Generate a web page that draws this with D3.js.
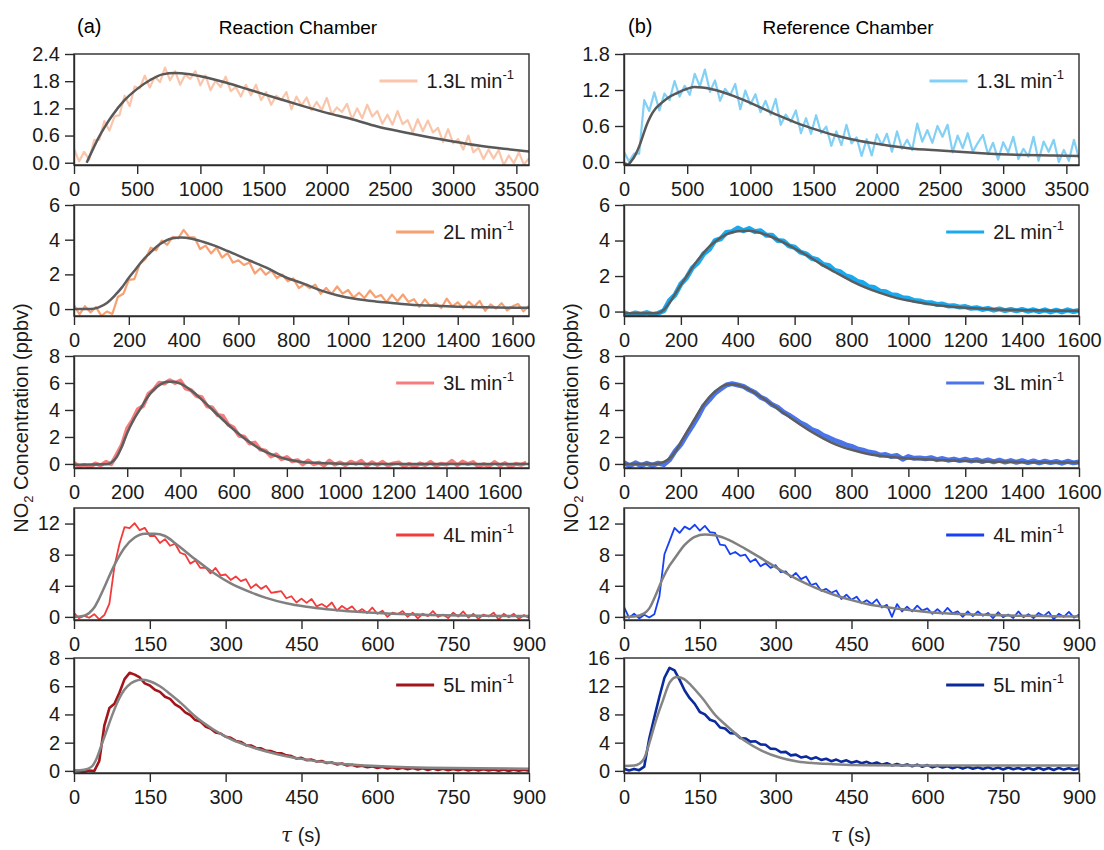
<!DOCTYPE html>
<html>
<head>
<meta charset="utf-8">
<script src="https://cdn.jsdelivr.net/npm/d3@7"></script>
<style>
  body { margin: 0; background: #fff; }
  svg { font-family: "Liberation Sans", Arial, sans-serif; }
  .axis text { font-size: 20px; fill: #1a1a1a; }
  .axis path, .axis line { stroke: #2b2b2b; stroke-width: 1.4; }
</style>
</head>
<body>
<svg width="1104" height="850"></svg>
<script>
var svg = d3.select('svg');

// flow rates (legend labels), one per row
var flowRates = ['1.3', '2', '3', '4', '5'];

// sampling step (s) of the measured traces, per row
var rcStep = [40, 20, 20, 10, 10];
var refStep = [40, 20, 20, 10, 10];

// x extent (tau, s) and ticks
var rcTauMax = [3600, 1660, 1710, 900, 900];
var refTauMax = [3600, 1600, 1600, 900, 900];
var xTicksLong = [0, 500, 1000, 1500, 2000, 2500, 3000, 3500];
var xTicksMid = [0, 200, 400, 600, 800, 1000, 1200, 1400, 1600];
var xTicksShort = [0, 150, 300, 450, 600, 750, 900];

// y extents and ticks
var rcYDomain = [[-0.05, 2.4], [-0.4, 6], [-0.3, 8], [-0.4, 14], [-0.15, 8]];
var refYDomain = [[-0.05, 1.8], [-0.25, 6], [-0.3, 8], [-0.4, 14], [-0.3, 16]];
var rcYTicks = [[0, 0.6, 1.2, 1.8, 2.4], [0, 2, 4, 6], [0, 2, 4, 6, 8], [0, 4, 8, 12], [0, 2, 4, 6, 8]];
var refYTicks = [[0, 0.6, 1.2, 1.8], [0, 2, 4, 6], [0, 2, 4, 6, 8], [0, 4, 8, 12], [0, 4, 8, 12, 16]];

// Reaction chamber, measured NO2 (ppbv)
var rc13 = [0.31,0.03,0.24,0.07,0.50,0.51,0.92,0.71,1.02,1.05,
  1.48,1.25,1.68,1.64,1.92,1.66,1.90,1.78,2.10,1.82,
  2.02,1.72,1.94,1.85,2.02,1.71,1.93,1.60,1.81,1.67,
  1.90,1.58,1.67,1.46,1.72,1.49,1.72,1.38,1.56,1.28,
  1.48,1.38,1.56,1.18,1.46,1.26,1.44,1.16,1.34,1.16,
  1.43,1.07,1.22,1.12,1.30,0.96,1.20,0.98,1.28,1.02,
  1.14,0.86,1.06,0.84,1.14,0.85,0.94,0.67,0.96,0.70,
  0.93,0.67,0.77,0.46,0.74,0.43,0.52,0.29,0.60,0.23,
  0.33,0.08,0.29,0.09,0.28,-0.05,0.16,-0.01,0.23,-0.04,
  0.10];
var rc2 = [0.22,-0.30,0.17,-0.19,0.11,-0.39,-0.14,-0.28,0.70,0.88,
  1.68,1.73,2.59,2.87,3.54,3.39,3.95,3.70,4.16,4.08,
  4.57,4.15,4.13,3.46,3.66,3.21,3.55,2.97,3.22,2.68,
  2.81,2.54,2.69,2.05,2.35,1.98,2.23,1.79,1.99,1.60,
  1.77,1.21,1.43,1.21,1.41,0.88,1.22,0.87,1.30,0.89,
  1.10,0.66,0.94,0.64,1.07,0.68,0.81,0.40,0.83,0.45,
  0.84,0.41,0.57,0.13,0.56,0.17,0.33,0.06,0.60,0.15,
  0.39,0.04,0.43,0.14,0.47,-0.10,0.27,0.03,0.34,-0.08,
  0.16,0.29,-0.13,0.19];
var rc3 = [0.08,-0.20,-0.08,-0.26,0.04,-0.11,0.15,-0.02,0.68,1.42,
  2.64,3.26,4.06,4.30,5.20,5.52,6.02,5.96,6.21,6.00,
  6.18,5.59,5.47,5.04,4.94,4.27,4.18,3.63,3.55,2.91,
  2.70,2.09,2.01,1.51,1.58,1.07,0.99,0.55,0.72,0.35,
  0.51,0.19,0.28,-0.03,0.26,-0.02,0.10,-0.11,0.25,-0.05,
  0.11,-0.09,0.17,0.01,0.23,-0.15,0.13,-0.08,0.16,-0.12,
  0.04,0.11,-0.17,0.01,-0.23,0.05,-0.09,0.15,-0.14,0.02,
  -0.05,0.23,-0.10,0.18,-0.01,0.14,-0.21,-0.01,-0.17,0.15,
  -0.13,0.07,-0.23,0.01,-0.07,0.11];
var rc4 = [0.52,-0.18,0.14,-0.11,0.35,-0.32,0.24,1.70,6.50,9.40,
  11.55,11.40,12.05,11.15,11.45,10.40,10.40,9.50,10.00,9.15,
  9.40,8.25,8.00,6.85,7.25,6.30,6.35,5.60,6.30,5.35,
  5.45,4.75,5.20,4.60,4.85,3.70,4.20,3.60,4.00,3.10,
  3.20,3.30,2.40,2.65,1.85,2.35,1.80,2.30,1.35,1.65,
  1.25,1.85,0.80,1.40,0.95,1.35,0.60,1.00,0.50,1.20,
  0.40,0.80,0.00,0.55,0.35,0.75,0.00,0.55,-0.20,0.40,
  0.10,0.75,0.00,0.30,-0.15,0.55,0.05,0.70,-0.10,0.40,
  -0.25,0.30,0.05,0.55,-0.35,0.40,-0.05,0.40,-0.25,0.25,
  -0.15];
var rc5 = [0.05,-0.03,-0.08,0.02,-0.02,0.7,3.2,4.45,4.75,5.55,
  6.5,6.95,6.82,6.62,6.2,6.05,5.75,5.6,5.25,5.1,
  4.72,4.5,4.15,3.95,3.6,3.5,3.15,3.0,2.72,2.65,
  2.42,2.35,2.12,2.05,1.82,1.8,1.62,1.6,1.42,1.4,
  1.27,1.25,1.1,1.05,0.88,0.92,0.76,0.8,0.66,0.7,
  0.56,0.6,0.46,0.52,0.38,0.44,0.31,0.37,0.26,0.32,
  0.2,0.29,0.17,0.25,0.14,0.23,0.12,0.2,0.1,0.19,
  0.06,0.17,0.07,0.15,0.04,0.14,0.05,0.13,0.03,0.12,
  0.02,0.11,0.03,0.1,0.01,0.1,0.0,0.09,0.01,0.08,
  0.02];

// Reference chamber, measured NO2 (ppbv)
var ref13 = [0.17,0.01,0.14,0.14,1.03,0.85,1.16,0.86,1.14,1.03,
  1.35,1.09,1.27,1.12,1.47,1.26,1.54,1.17,1.36,1.02,
  1.22,1.11,1.30,0.88,1.19,0.96,1.13,0.83,1.02,0.79,
  1.05,0.62,0.79,0.67,0.86,0.48,0.73,0.47,0.78,0.48,
  0.59,0.27,0.51,0.28,0.62,0.31,0.41,0.10,0.38,0.11,
  0.46,0.28,0.47,0.17,0.51,0.22,0.37,0.20,0.64,0.34,
  0.53,0.32,0.60,0.42,0.62,0.16,0.44,0.23,0.48,0.17,
  0.32,0.45,0.13,0.32,0.04,0.33,0.16,0.42,0.05,0.22,
  0.09,0.42,0.02,0.34,0.17,0.37,0.00,0.20,0.02,0.37,
  0.06];
var ref2 = [-0.05,-0.18,-0.08,-0.15,-0.06,-0.16,-0.1,0.05,0.62,0.95,
  1.55,1.9,2.45,2.75,3.25,3.5,4.0,4.1,4.45,4.5,
  4.7,4.55,4.68,4.5,4.55,4.3,4.3,4.0,3.98,3.7,
  3.62,3.35,3.25,3.0,2.92,2.65,2.6,2.32,2.25,2.0,
  1.92,1.7,1.62,1.4,1.35,1.15,1.12,0.95,0.92,0.78,
  0.75,0.62,0.6,0.5,0.5,0.4,0.42,0.32,0.33,0.25,
  0.28,0.18,0.22,0.12,0.18,0.08,0.15,0.05,0.12,0.04,
  0.12,0.02,0.1,0.0,0.1,-0.02,0.08,-0.02,0.1,0.0,
  0.06];
var ref3 = [0.1,-0.15,0.08,-0.12,0.05,-0.1,0.06,-0.05,0.3,0.95,
  1.45,2.15,2.8,3.5,4.3,4.75,5.25,5.55,5.85,5.95,
  5.85,5.75,5.5,5.3,4.95,4.75,4.4,4.2,3.85,3.62,
  3.35,3.05,2.85,2.55,2.4,2.12,1.95,1.75,1.6,1.42,
  1.3,1.12,1.02,0.88,0.82,0.65,0.7,0.55,0.62,0.35,
  0.55,0.42,0.45,0.38,0.46,0.32,0.4,0.28,0.36,0.25,
  0.35,0.22,0.32,0.18,0.3,0.16,0.28,0.14,0.25,0.12,
  0.24,0.1,0.22,0.08,0.2,0.1,0.18,0.06,0.2,0.08,
  0.15];
var ref4 = [1.28,-0.11,0.40,-0.20,0.28,-0.07,0.35,2.65,8.05,9.75,
  11.45,10.80,11.60,11.25,11.85,11.10,11.70,10.90,10.80,9.30,
  9.20,8.05,8.35,7.85,8.00,7.05,7.45,6.50,6.90,6.30,
  6.65,5.75,5.85,5.10,5.65,4.85,5.20,4.10,4.30,3.35,
  3.60,3.10,3.40,2.30,2.85,2.20,2.60,1.75,2.15,1.65,
  2.25,1.20,1.55,0.00,1.65,0.70,1.30,0.70,1.45,0.80,
  1.10,0.40,1.00,0.40,1.15,0.45,0.70,0.00,0.70,0.10,
  0.70,0.15,0.50,-0.15,0.60,-0.05,0.30,-0.15,0.70,-0.05,
  0.35,-0.15,0.50,0.10,0.65,-0.30,0.40,0.00,0.65,-0.10,
  0.30];
var ref5 = [0.3,0.05,0.28,0.1,0.6,4.6,7.6,10.5,13.2,14.6,
  14.25,12.9,11.4,10.3,9.5,8.35,8.0,7.25,7.0,6.15,
  6.0,5.35,5.3,4.65,4.6,4.15,4.2,3.75,3.7,3.15,
  3.1,2.65,2.7,2.2,2.3,1.9,2.05,1.7,1.92,1.55,
  1.72,1.38,1.6,1.28,1.5,1.15,1.38,1.08,1.28,0.98,
  1.18,0.88,1.08,0.78,0.98,0.72,0.92,0.65,0.88,0.58,
  0.82,0.5,0.72,0.48,0.66,0.38,0.62,0.32,0.58,0.3,
  0.52,0.28,0.52,0.25,0.48,0.2,0.47,0.22,0.42,0.18,
  0.42,0.16,0.44,0.15,0.4,0.12,0.42,0.18,0.38,0.15,
  0.36];

// fitted curves [tau, NO2]
var rcFit13 = [[100,0],[150,0.3],[200,0.58],[250,0.82],[300,1.03],[400,1.38],[500,1.63],[600,1.82],[700,1.95],[800,1.98],[900,1.96],[1000,1.91],[1200,1.77],[1400,1.6],[1600,1.43],[1800,1.26],[2000,1.1],[2200,0.96],[2400,0.8],[2600,0.68],[2800,0.57],[3000,0.47],[3200,0.38],[3400,0.31],[3600,0.25]];
var rcFit2 = [[0,0],[60,0],[90,0.1],[120,0.35],[150,0.8],[175,1.25],[200,1.8],[225,2.3],[250,2.8],[275,3.2],[300,3.58],[330,3.9],[360,4.08],[390,4.12],[430,4.05],[470,3.88],[510,3.67],[560,3.35],[640,2.8],[700,2.4],[770,1.85],[840,1.45],[900,1.08],[960,0.8],[1030,0.58],[1100,0.44],[1160,0.35],[1230,0.25],[1300,0.2],[1400,0.14],[1500,0.1],[1600,0.08],[1660,0.07]];
var rcFit3 = [[0,-0.05],[120,-0.03],[140,0.1],[160,0.5],[180,1.3],[200,2.3],[225,3.3],[250,4.1],[275,4.9],[300,5.5],[325,5.9],[350,6.1],[375,6.1],[400,5.95],[450,5.3],[500,4.4],[550,3.45],[600,2.55],[650,1.75],[700,1.1],[750,0.65],[800,0.35],[850,0.17],[900,0.08],[1000,0.02],[1200,0],[1710,0]];
var rcFit4 = [[0,0],[20,0.15],[30,0.5],[40,1.2],[50,2.4],[60,3.8],[70,5.3],[85,7.3],[100,8.9],[120,10.2],[140,10.7],[160,10.7],[180,10.4],[205,9.2],[240,7.4],[275,5.7],[310,4.3],[350,3.15],[380,2.45],[420,1.75],[460,1.3],[500,0.98],[560,0.65],[630,0.4],[700,0.25],[800,0.14],[900,0.1]];
var rcFit5 = [[0,0.02],[20,0.08],[35,0.3],[45,0.9],[55,1.9],[65,2.9],[75,3.9],[85,4.8],[95,5.5],[106,6.0],[120,6.35],[134,6.45],[150,6.35],[170,6.0],[190,5.45],[215,4.7],[240,3.85],[275,2.95],[310,2.25],[350,1.7],[400,1.2],[450,0.85],[500,0.6],[560,0.42],[630,0.3],[700,0.23],[800,0.18],[900,0.15]];
var refFit13 = [[0,-0.02],[30,-0.04],[60,0.02],[90,0.12],[120,0.26],[150,0.44],[180,0.62],[210,0.76],[250,0.89],[300,0.99],[340,1.06],[420,1.15],[500,1.22],[560,1.25],[620,1.24],[680,1.22],[800,1.15],[950,1.03],[1100,0.89],[1240,0.76],[1380,0.64],[1520,0.54],[1660,0.45],[1800,0.38],[1950,0.32],[2100,0.27],[2250,0.23],[2500,0.19],[2800,0.15],[3100,0.12],[3400,0.11],[3600,0.1]];
var refFit2 = [[0,-0.1],[100,-0.1],[120,-0.08],[140,0.1],[160,0.5],[180,1.0],[200,1.5],[225,2.1],[250,2.7],[275,3.2],[300,3.65],[330,4.05],[360,4.35],[400,4.52],[440,4.55],[480,4.42],[520,4.2],[560,3.9],[600,3.55],[650,3.1],[700,2.6],[750,2.15],[800,1.72],[850,1.35],[900,1.05],[950,0.8],[1000,0.62],[1100,0.36],[1200,0.22],[1300,0.13],[1400,0.08],[1500,0.05],[1600,0.04]];
var refFit3 = [[0,0],[120,0.02],[140,0.15],[160,0.4],[180,0.9],[200,1.6],[225,2.5],[250,3.4],[275,4.25],[300,4.95],[325,5.45],[350,5.8],[375,5.9],[400,5.85],[450,5.4],[500,4.7],[550,3.95],[600,3.2],[650,2.5],[700,1.9],[750,1.4],[800,1.05],[850,0.78],[900,0.6],[1000,0.4],[1100,0.3],[1200,0.22],[1300,0.17],[1400,0.13],[1600,0.1]];
var refFit4 = [[0,0],[20,0.05],[40,0.45],[50,1.1],[63,2.85],[77,5.0],[90,6.6],[100,7.5],[120,9.25],[140,10.3],[160,10.6],[180,10.5],[200,10.1],[240,8.75],[275,7.4],[310,6.0],[345,4.75],[380,3.7],[415,2.85],[450,2.15],[485,1.6],[520,1.25],[555,0.95],[590,0.7],[625,0.5],[695,0.3],[760,0.18],[830,0.1],[900,0.05]];
var refFit5 = [[0,0.7],[20,0.75],[30,1.0],[40,1.8],[50,3.9],[63,7.1],[77,10.0],[91,12.6],[105,13.3],[119,13.0],[133,12.1],[154,10.4],[182,7.8],[203,6.4],[238,4.3],[273,2.85],[308,1.9],[343,1.33],[380,1.08],[414,0.95],[484,0.8],[560,0.76],[700,0.75],[900,0.75]];

var rcData = [rc13, rc2, rc3, rc4, rc5];
var refData = [ref13, ref2, ref3, ref4, ref5];
var rcFits = [rcFit13, rcFit2, rcFit3, rcFit4, rcFit5];
var refFits = [refFit13, refFit2, refFit3, refFit4, refFit5];

// styling
var rcColors = ['#f9c6ab', '#f7a071', '#f77c7c', '#f33b3b', '#a3151a'];
var refColors = ['#82d0f5', '#19a9ef', '#4a74ea', '#1741f2', '#0b2b9c'];
var rcWidths = [2.2, 2.2, 4, 1.8, 2.6];
var refWidths = [2.2, 5, 5, 1.8, 2.6];
var fitColors = ['#585858', '#5c5c5c', '#5e5e5e', '#808080', '#858585'];
var colX = [[74, 529], [624, 1079]];
var rowY = [[54, 165], [205, 316], [356, 468], [508, 620], [658, 773]];

function drawPanel(col, row, values, step, fit, tauMax, yDomain, yTicks, color, width) {
    var x0 = colX[col][0], x1 = colX[col][1];
    var y0 = rowY[row][0], y1 = rowY[row][1];
    var xScale = d3.scaleLinear().domain([0, tauMax]).range([x0, x1]);
    var yScale = d3.scaleLinear().domain(yDomain).range([y1, y0]);
    var xTicks = tauMax > 2000 ? xTicksLong : (tauMax > 1000 ? xTicksMid : xTicksShort);
    var clipId = 'clip-' + col + '-' + row;

    svg.append('clipPath').attr('id', clipId)
        .append('rect')
        .attr('x', x0).attr('y', y0)
        .attr('width', x1 - x0).attr('height', y1 - y0);

    var line = d3.line()
        .x(function(d) { return xScale(d[0]); })
        .y(function(d) { return yScale(d[1]); });

    // measured trace
    var pts = values.map(function(v, i) { return [i * step, v]; });
    svg.append('path')
        .datum(pts)
        .attr('clip-path', 'url(#' + clipId + ')')
        .attr('fill', 'none')
        .attr('stroke', color)
        .attr('stroke-width', width)
        .attr('stroke-linejoin', 'round')
        .attr('d', line);

    // fitted curve
    svg.append('path')
        .datum(fit)
        .attr('clip-path', 'url(#' + clipId + ')')
        .attr('fill', 'none')
        .attr('stroke', fitColors[row])
        .attr('stroke-width', 2.5)
        .attr('d', line.curve(d3.curveMonotoneX));

    // frame
    svg.append('rect')
        .attr('x', x0).attr('y', y0)
        .attr('width', x1 - x0).attr('height', y1 - y0)
        .attr('fill', 'none')
        .attr('stroke', '#2b2b2b')
        .attr('stroke-width', 1.4);

    var fmt = row === 0 ? d3.format('.1f') : d3.format('d');

    svg.append('g')
        .attr('class', 'axis')
        .attr('transform', 'translate(0,' + y1 + ')')
        .call(d3.axisBottom(xScale).tickValues(xTicks).tickSize(9).tickSizeOuter(0).tickPadding(8).tickFormat(d3.format('d')));

    svg.append('g')
        .attr('class', 'axis')
        .attr('transform', 'translate(' + x0 + ',0)')
        .call(d3.axisLeft(yScale).tickValues(yTicks).tickSize(9).tickSizeOuter(0).tickPadding(5).tickFormat(fmt));

    // legend
    var ly = y0 + 27;
    var txt = svg.append('text')
        .attr('x', x1 - 15)
        .attr('y', ly + 7)
        .attr('text-anchor', 'end')
        .attr('font-size', 20)
        .attr('fill', '#1a1a1a');
    txt.append('tspan').text(flowRates[row] + 'L min');
    txt.append('tspan').attr('dy', -9).attr('font-size', 13).text('-1');
    var w = txt.node().getComputedTextLength();
    var lx1 = x1 - 15 - w - 9;
    svg.append('line')
        .attr('x1', lx1 - 38).attr('x2', lx1)
        .attr('y1', ly).attr('y2', ly)
        .attr('stroke', color)
        .attr('stroke-width', 3);
}

for (var r = 0; r < 5; r++) {
    drawPanel(0, r, rcData[r], rcStep[r], rcFits[r], rcTauMax[r], rcYDomain[r], rcYTicks[r], rcColors[r], rcWidths[r]);
    drawPanel(1, r, refData[r], refStep[r], refFits[r], refTauMax[r], refYDomain[r], refYTicks[r], refColors[r], refWidths[r]);
}

// panel titles
svg.append('text').attr('x', 77).attr('y', 33).attr('font-size', 20).text('(a)');
svg.append('text').attr('x', 298).attr('y', 34).attr('font-size', 19).attr('text-anchor', 'middle').text('Reaction Chamber');
svg.append('text').attr('x', 628).attr('y', 33).attr('font-size', 20).text('(b)');
svg.append('text').attr('x', 848).attr('y', 34).attr('font-size', 19).attr('text-anchor', 'middle').text('Reference Chamber');

// y axis titles
[28, 578].forEach(function(xPos) {
    var t = svg.append('text')
        .attr('transform', 'translate(' + xPos + ',418)rotate(-90)')
        .attr('text-anchor', 'middle')
        .attr('font-size', 20)
        .attr('fill', '#1a1a1a');
    t.append('tspan').text('NO');
    t.append('tspan').attr('font-size', 13).attr('dy', 5).text('2');
    t.append('tspan').attr('dy', -5).text(' Concentration (ppbv)');
});

// x axis titles
[301, 851].forEach(function(xPos) {
    var t = svg.append('text')
        .attr('x', xPos).attr('y', 842)
        .attr('text-anchor', 'middle')
        .attr('font-size', 20)
        .attr('fill', '#1a1a1a');
    t.append('tspan').attr('font-style', 'italic').attr('font-family', '"DejaVu Serif", serif').text('\u03c4');
    t.append('tspan').text(' (s)');
});
</script>
</body>
</html>
